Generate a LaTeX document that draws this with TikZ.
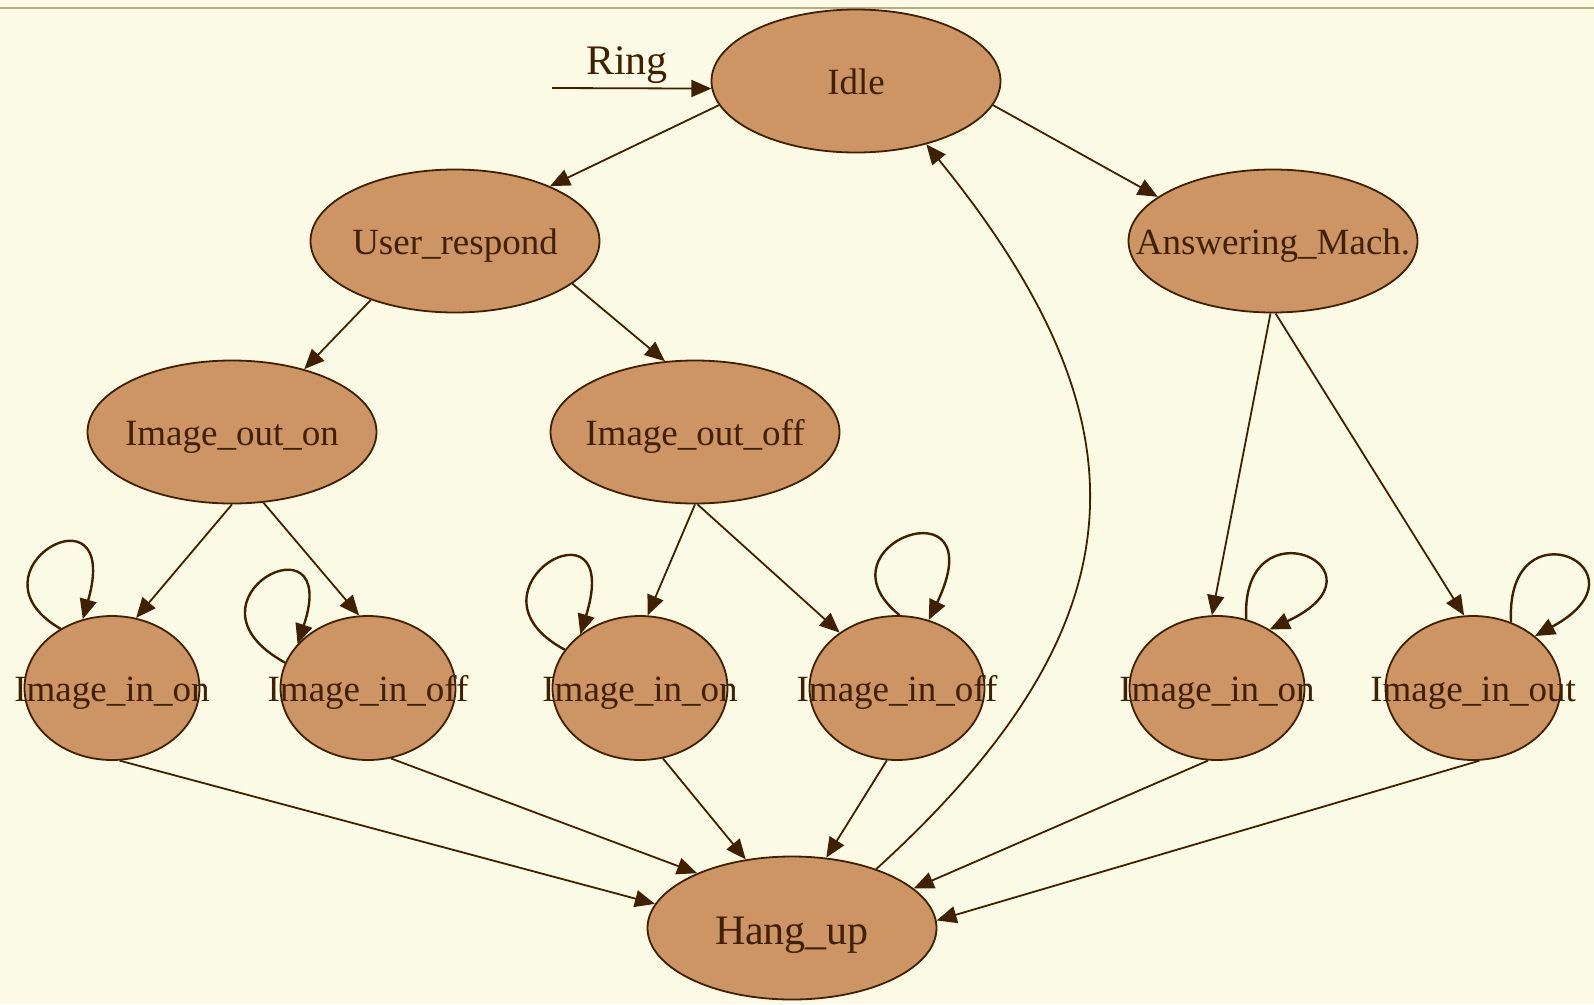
\documentclass[tikz,border=0pt]{standalone}
\usepackage{fontspec}
\setmainfont{Liberation Serif}
\usetikzlibrary{shapes.geometric,arrows.meta}
\definecolor{paper}{RGB}{251,250,228}
\definecolor{statefill}{RGB}{204,149,99}
\definecolor{ink}{RGB}{64,32,0}
\definecolor{rulecol}{RGB}{190,170,130}
\newcommand{\statename}[1]{\makebox[0pt]{#1}}

\begin{document}
\begin{tikzpicture}[x=1pt,y=-1pt,>={Triangle[length=20pt,width=17pt]},
  state/.style={ellipse,draw=ink,line width=1.8pt,fill=statefill,text=ink,inner sep=0pt,
    text height=27pt,text depth=0pt,
    minimum width=289pt,minimum height=143pt,font=\fontsize{37}{44}\selectfont},
  smallstate/.style={state,minimum width=175pt,minimum height=144pt},
  trans/.style={->,draw=ink,line width=1.8pt},
  selfloop/.style={->,draw=ink,line width=2.4pt}]
\fill[paper] (0,0) rectangle (1594,1004);
\useasboundingbox (0,0) rectangle (1594,1004);
\draw[rulecol,line width=1.5pt] (0,8) -- (1594,8);

\node[state] (idle) at (856,81) {\statename{Idle}};
\node[state] (user) at (455,241) {\statename{User\_respond}};
\node[state] (answer) at (1273,241) {\statename{Answering\_Mach.}};
\node[state] (outon) at (232,432) {\statename{Image\_out\_on}};
\node[state] (outoff) at (695,432) {\statename{Image\_out\_off}};
\node[smallstate] (inonA) at (112,688) {\statename{Image\_in\_on}};
\node[smallstate] (inoffA) at (368,688) {\statename{Image\_in\_off}};
\node[smallstate] (inonB) at (640,688) {\statename{Image\_in\_on}};
\node[smallstate] (inoffB) at (897,688) {\statename{Image\_in\_off}};
\node[smallstate] (inonC) at (1217,688) {\statename{Image\_in\_on}};
\node[smallstate] (inout) at (1473,688) {\statename{Image\_in\_out}};
\node[state,text height=32pt,font=\fontsize{42}{50}\selectfont] (hangup) at (792,928) {\statename{Hang\_up}};

\coordinate (ringin) at (552,88);
\draw[trans] (ringin) -- (idle.183)
  node[pos=0.47,above,text=ink,font=\fontsize{42}{50}\selectfont] {Ring};

\draw[trans] (idle.190) -- (user.30);
\draw[trans] (idle.350) -- (answer.159);
\draw[trans] (user.215) -- (outon.41);
\draw[trans] (user.340) -- (outoff.113);
\draw[trans] (outon.270) -- (inonA.71);
\draw[trans] (outon.294) -- (inoffA.97);
\draw[trans] (outoff.270) -- (inonB.84);
\draw[trans] (outoff.272) -- (inoffB.136);
\draw[trans] (answer.268) -- (inonC.94);
\draw[trans] (answer.272) -- (inout.97);
\foreach \src/\from/\to in {inonA/276/170,inoffA/288/150,inonB/288/124,
    inoffB/262/64,inonC/263/18,inout/275/3}
  \draw[trans] (\src.\from) -- (hangup.\to);
\draw[trans] (hangup.35) .. controls (1150,620) and (1150,420) .. (idle.318);

\draw[selfloop] (inonA.131) .. controls +(-100,-58) and +(40,-140) .. (inonA.113);
\draw[selfloop] (inoffA.163) .. controls +(-115,-63) and +(45,-134) .. (inoffA.148);
\draw[selfloop] (inonB.153) .. controls +(-112,-60) and +(45,-145) .. (inonB.138);
\draw[selfloop] (inoffB.88) .. controls +(-88,-71) and +(68,-141) .. (inoffB.65);
\draw[selfloop] (inonC.67) .. controls +(-6,-120) and +(128,-60) .. (inonC.48);
\draw[selfloop] (inout.60) .. controls +(-6,-123) and +(122,-66) .. (inout.40);
\end{tikzpicture}
\end{document}
